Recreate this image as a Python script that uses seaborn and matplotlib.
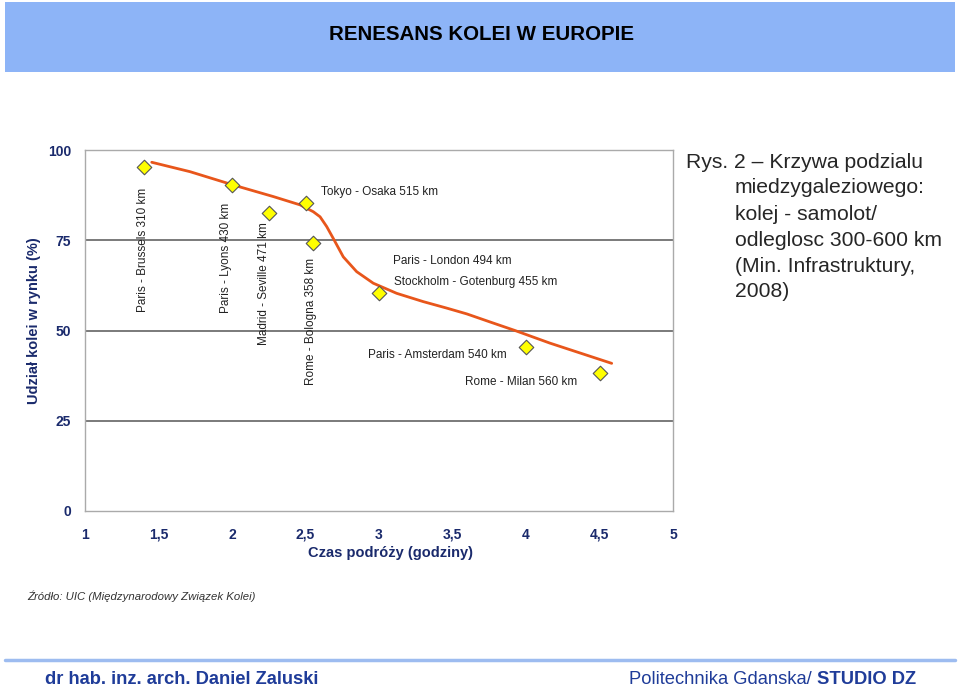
import matplotlib
matplotlib.use("Agg")
import matplotlib.pyplot as plt
import seaborn as sns
import pandas as pd
from matplotlib.patches import Rectangle
from matplotlib.lines import Line2D

# ---- data ----
routes = ["Paris - Brussels 310 km", "Paris - Lyons 430 km", "Madrid - Seville 471 km",
          "Tokyo - Osaka 515 km", "Rome - Bologna 358 km", "Paris - London 494 km",
          "Paris - Amsterdam 540 km", "Rome - Milan 560 km"]
travel_hours = [1.40, 2.00, 2.25, 2.50, 2.55, 3.00, 4.00, 4.50]
rail_share = [95.3, 90.3, 82.5, 85.3, 74.2, 60.4, 45.4, 38.2]
extra_label = "Stockholm - Gotenburg 455 km"

curve_hours = [1.454, 1.714, 2.009, 2.281, 2.463, 2.553, 2.599, 2.644, 2.689, 2.757,
               2.848, 2.961, 3.120, 3.301, 3.461, 3.597, 3.760, 3.925, 4.163, 4.583]
curve_share = [96.6, 94.0, 90.3, 87.1, 84.8, 82.9, 81.5, 78.8, 75.5, 70.4,
               66.3, 63.1, 60.3, 58.0, 56.2, 54.6, 52.3, 50.0, 46.5, 40.9]

x_ticks = [1, 1.5, 2, 2.5, 3, 3.5, 4, 4.5, 5]
x_tick_labels = ["1", "1,5", "2", "2,5", "3", "3,5", "4", "4,5", "5"]
y_ticks = [0, 25, 50, 75, 100]

pts = pd.DataFrame({"h": travel_hours, "s": rail_share, "route": routes})
crv = pd.DataFrame({"h": curve_hours, "s": curve_share})

sns.set_theme(style="white")
plt.rcParams["font.family"] = ["Liberation Sans", "DejaVu Sans"]

NAVY = "#1a2a6c"
fig = plt.figure(figsize=(9.6, 6.86), dpi=100)

# header banner
fig.patches.append(Rectangle((5/960, 1-72/686), 950/960, 70/686, transform=fig.transFigure,
                             facecolor="#8db4f7", edgecolor="none", zorder=0))
fig.text(481/960, 1-34/686, "RENESANS KOLEI W EUROPIE", ha="center", va="center",
         fontsize=14.8, fontweight="bold", color="black")

ax = fig.add_axes([85/960, 1-511/686, 588/960, 361/686])
sns.lineplot(data=crv, x="h", y="s", ax=ax, color="#e8561b", linewidth=2.0, sort=False,
             solid_joinstyle="round", solid_capstyle="round")
sns.scatterplot(data=pts, x="h", y="s", ax=ax, marker="D", s=55, color="#ffff00",
                edgecolor="#555555", linewidth=0.8, zorder=5)

ax.set_xlim(1, 5)
ax.set_ylim(0, 100)
ax.set_xticks(x_ticks)
ax.set_xticklabels(x_tick_labels)
ax.set_yticks(y_ticks)
for yv in [25, 50, 75]:
    ax.axhline(yv, color="#707070", linewidth=1.3, zorder=1)
for sp in ax.spines.values():
    sp.set_color("#aaaaaa")
    sp.set_linewidth(1.0)
ax.tick_params(axis="both", length=0, labelsize=10, labelcolor=NAVY)
ax.tick_params(axis="x", pad=12)
ax.tick_params(axis="y", pad=10)
for lab in ax.get_xticklabels() + ax.get_yticklabels():
    lab.set_fontweight("bold")
ax.set_xlabel("Czas podróży (godziny)", fontsize=10.5, fontweight="bold", color=NAVY)
ax.set_ylabel("Udział kolei w rynku (%)", fontsize=10.5, fontweight="bold", color=NAVY)
ax.xaxis.set_label_coords((391-85)/588, -(546-511)/361)
ax.yaxis.set_label_coords(-(85-41)/588, (511-321)/361)

tk = dict(fontsize=8.5, color="#222222")
# rotated labels
ax.text(1.395, 89.5, routes[0], rotation=90, ha="center", va="top", **tk)
ax.text(1.96, 85.3, routes[1], rotation=90, ha="center", va="top", **tk)
ax.text(2.218, 80.1, routes[2], rotation=90, ha="center", va="top", **tk)
ax.text(2.537, 70.1, routes[4], rotation=90, ha="center", va="top", **tk)
# horizontal labels
ax.text(2.605, 88.4, routes[3], ha="left", va="center", **tk)
ax.text(3.095, 69.3, routes[5], ha="left", va="center", **tk)
ax.text(3.102, 63.4, extra_label, ha="left", va="center", **tk)
ax.text(2.925, 43.2, routes[6], ha="left", va="center", **tk)
ax.text(3.585, 35.7, routes[7], ha="left", va="center", **tk)

# side caption
cap_fs = 15.2
fig.text(686/960, 1-162/686, "Rys. 2 – Krzywa podzialu", ha="left", va="center", fontsize=cap_fs)
for i, line in enumerate(["miedzygaleziowego:", "kolej - samolot/", "odleglosc 300-600 km",
                          "(Min. Infrastruktury,", "2008)"]):
    fig.text(735/960, 1-(188+26*i)/686, line, ha="left", va="center", fontsize=cap_fs)

# source
fig.text(27/960, 1-596/686, "Źródło: UIC (Międzynarodowy Związek Kolei)", ha="left", va="center",
         fontsize=8.2, style="italic", color="#333333")

# footer
fig.lines.append(Line2D([5/960, 955/960], [1-660/686, 1-660/686], transform=fig.transFigure,
                        color="#9dbcf0", linewidth=2.5))
fig.text(45/960, 1-679/686, "dr hab. inz. arch. Daniel Zaluski", ha="left", va="center",
         fontsize=13.2, fontweight="bold", color="#1f3c99")
t2 = fig.text(916/960, 1-679/686, "STUDIO DZ", ha="right", va="center",
              fontsize=13.2, fontweight="bold", color="#1f3c99")
fig.canvas.draw()
bb = t2.get_window_extent()
fig.text(bb.x0/960, 1-679/686, "Politechnika Gdanska/ ", ha="right", va="center",
         fontsize=13.2, color="#1f3c99")

fig.savefig("out.png", dpi=100)
